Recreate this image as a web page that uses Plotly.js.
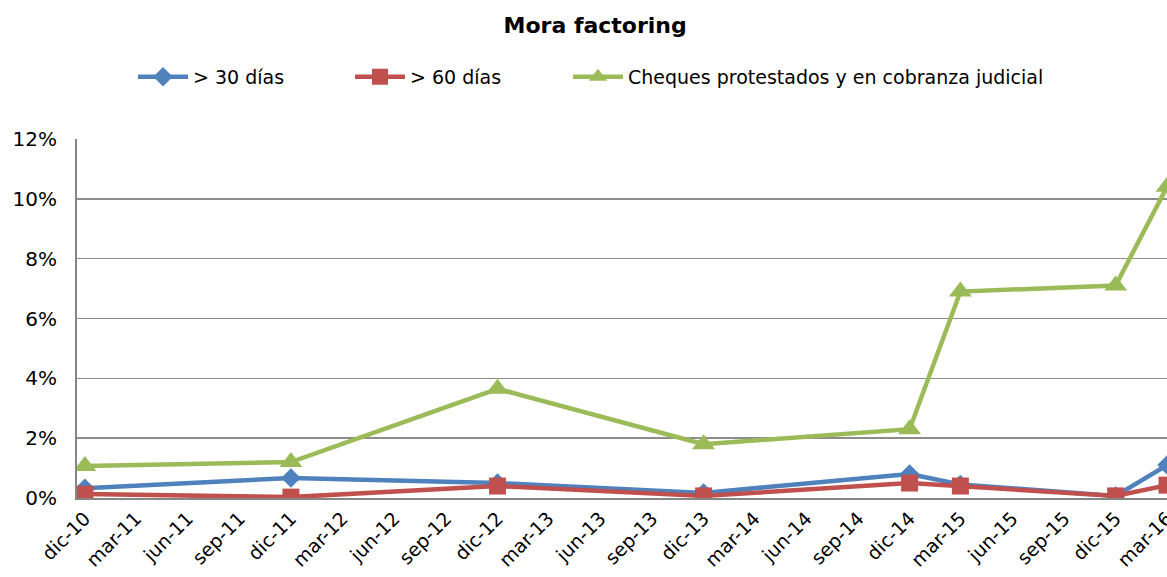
<!DOCTYPE html>
<html>
<head>
<meta charset="utf-8">
<script src="https://cdn.plot.ly/plotly-3.0.1.min.js"></script>
<style>html,body{margin:0;padding:0;background:#fff;}#chart{width:1167px;height:577px;}</style>
</head>
<body>
<div id="chart"></div>
<script>
const dates = ['2010-12-01','2011-12-01','2012-12-01','2013-12-01','2014-12-01','2015-03-01','2015-12-01','2016-03-01'];
const mora30 = [0.0033, 0.0067, 0.0050, 0.0017, 0.0080, 0.0045, 0.0007, 0.0110];
const mora60 = [0.0013, 0.0003, 0.0040, 0.0007, 0.0050, 0.0040, 0.0007, 0.0043];
const cheques = [0.0107, 0.0120, 0.0365, 0.0180, 0.0230, 0.0690, 0.0710, 0.1040];
const seriesNames = ['> 30 días', '> 60 días', 'Cheques protestados y en cobranza judicial'];
const tickDates = ['2010-12-01','2011-03-01','2011-06-01','2011-09-01','2011-12-01','2012-03-01','2012-06-01','2012-09-01','2012-12-01','2013-03-01','2013-06-01','2013-09-01','2013-12-01','2014-03-01','2014-06-01','2014-09-01','2014-12-01','2015-03-01','2015-06-01','2015-09-01','2015-12-01','2016-03-01'];
const tickLabels = ['dic-10','mar-11','jun-11','sep-11','dic-11','mar-12','jun-12','sep-12','dic-12','mar-13','jun-13','sep-13','dic-13','mar-14','jun-14','sep-14','dic-14','mar-15','jun-15','sep-15','dic-15','mar-16'];

const font = 'DejaVu Sans, Verdana, sans-serif';
const traces = [
  {x: dates, y: mora30, name: seriesNames[0], mode: 'lines+markers', legend: 'legend',
   line: {color: '#4F81BD', width: 4.5}, marker: {symbol: 'diamond', size: 15, color: '#4F81BD'}},
  {x: dates, y: mora60, name: seriesNames[1], mode: 'lines+markers', legend: 'legend2',
   line: {color: '#C0504D', width: 4.5}, marker: {symbol: 'square', size: 17, color: '#C0504D'}},
  {x: dates, y: cheques, name: seriesNames[2], mode: 'lines+markers', legend: 'legend3',
   line: {color: '#9BBB59', width: 4.5}, marker: {symbol: 'triangle-up', size: 20, color: '#9BBB59'}}
];
function leg(xpx) {
  return {orientation: 'h', x: (xpx - 77) / 1090, xanchor: 'left', y: 1.173, yanchor: 'middle',
    font: {family: font, size: 19}, itemwidth: 50, bgcolor: 'rgba(0,0,0,0)'};
}
const layout = {
  width: 1167, height: 577,
  margin: {l: 77, r: 0, t: 139, b: 79},
  paper_bgcolor: '#fff', plot_bgcolor: '#fff',
  font: {family: font, color: '#000', size: 19},
  title: {text: '<b>Mora factoring</b>', font: {family: font, size: 22, color: '#000'}, x: 0.51, xanchor: 'center', y: 0.957, yanchor: 'middle'},
  showlegend: true,
  legend: leg(133),
  legend2: leg(350),
  legend3: leg(568),
  xaxis: {type: 'date', range: ['2010-11-17', '2016-03-01'], tickmode: 'array', tickvals: tickDates, ticktext: tickLabels,
    tickangle: -45, showgrid: false, showline: true, linecolor: '#868686', linewidth: 2, ticks: '', zeroline: false,
    ticklabeloverflow: 'allow', tickfont: {family: font, size: 19}},
  yaxis: {range: [0, 0.12], dtick: 0.02, tickformat: '.0%', showgrid: true, gridcolor: '#8c8c8c', gridwidth: 1.5,
    showline: true, linecolor: '#868686', linewidth: 2, ticks: '', zeroline: false, tickfont: {family: font, size: 20},
    ticklabelstandoff: 14},
};
Plotly.newPlot('chart', traces, layout, {displayModeBar: false, staticPlot: true});
</script>
</body>
</html>
